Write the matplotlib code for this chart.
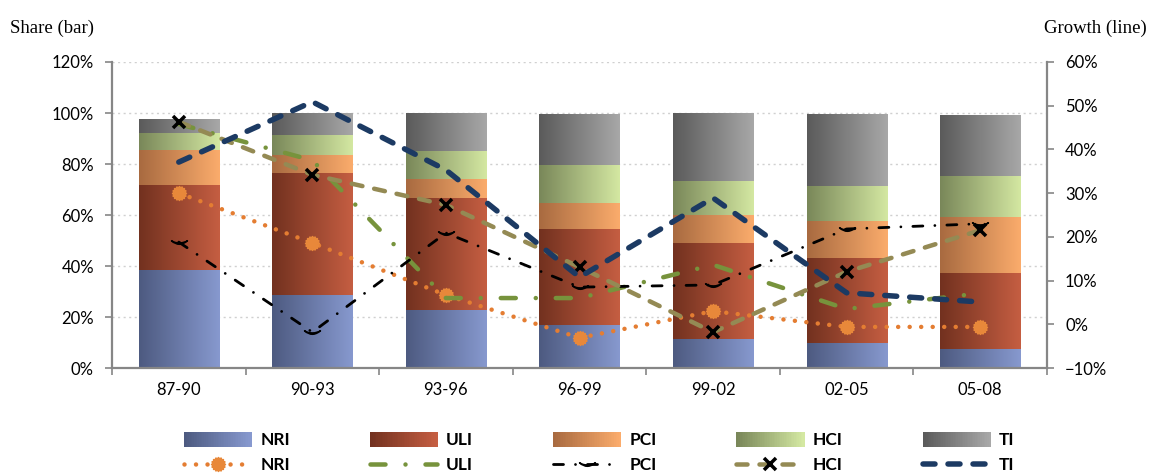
import numpy as np
import matplotlib
matplotlib.use('Agg')
import matplotlib.pyplot as plt
from matplotlib.colors import LinearSegmentedColormap, to_rgb
from matplotlib.patches import Rectangle
from matplotlib.legend_handler import HandlerBase
from matplotlib.lines import Line2D
from matplotlib.path import Path
from matplotlib.ticker import PercentFormatter, FixedLocator

# ---------------- data ----------------
periods = ['87-90', '90-93', '93-96', '96-99', '99-02', '02-05', '05-08']
series_names = ['NRI', 'ULI', 'PCI', 'HCI', 'TI']

share_nri = [38.4, 28.6, 22.7, 16.9, 11.4, 9.8, 7.5]
share_uli = [33.4, 47.9, 44.0, 37.6, 37.6, 33.3, 29.8]
share_pci = [13.7, 7.0, 7.4, 10.2, 11.0, 14.5, 21.9]
share_hci = [6.7, 7.9, 11.0, 14.9, 13.3, 13.8, 16.1]
share_ti = [5.1, 8.6, 14.9, 20.0, 26.3, 28.2, 23.9]

growth_nri = [30.0, 18.6, 6.7, -3.1, 3.0, -0.6, -0.6]
growth_uli = [45.8, 37.5, 6.0, 6.0, 13.6, 3.5, 7.1]
growth_pci = [18.8, -1.8, 20.9, 8.5, 9.0, 21.8, 23.0]
growth_hci = [46.3, 34.2, 27.3, 13.1, -1.8, 12.0, 21.5]
growth_ti = [37.1, 50.9, 35.3, 10.8, 28.9, 7.2, 5.1]

shares = [share_nri, share_uli, share_pci, share_hci, share_ti]
growths = [growth_nri, growth_uli, growth_pci, growth_hci, growth_ti]

# ---------------- styles ----------------
bar_grads = [('#4D5A80', '#8799CF'),
             ('#72311F', '#C55E42'),
             ('#A86A40', '#FBAC6C'),
             ('#798759', '#D4E8A2'),
             ('#5A5A5A', '#A8A8A8')]

theta = np.linspace(0, 2 * np.pi, 97)
r = 1 + 0.12 * np.cos(16 * theta)
sun = Path(np.column_stack([r * np.cos(theta), r * np.sin(theta)]), closed=True)

px = 0.72  # px -> pt
line_styles = [
    dict(color='#E47D32', lw=4.5 * px, ls=(0, (0.01, 11.5 * px)), marker=sun, ms=14 * px,
         mfc='#E8883A', mec='#E8883A'),
    dict(color='#77933C', lw=4.5 * px, ls=(0, (15 * px, 20 * px, 0.01, 20 * px)), marker='None'),
    dict(color='black', lw=2.8 * px, ls=(0, (10 * px, 12 * px, 0.01, 12 * px)), marker=r'$\smile$',
         ms=16 * px, mfc='black', mec='black'),
    dict(color='#948A54', lw=4.5 * px, ls=(0, (11 * px, 12 * px)), marker='x', ms=12 * px,
         mfc='black', mec='black', mew=3.5 * px),
    dict(color='#1C3A63', lw=5.5 * px, ls=(0, (12 * px, 13 * px)), marker='None'),
]

plt.rcParams['lines.scale_dashes'] = False
plt.rcParams['font.family'] = ['Lato', 'DejaVu Sans']

fig = plt.figure(figsize=(11.5, 4.73), dpi=100)
ax = fig.add_axes([112 / 1150, 1 - 368 / 473, 935 / 1150, 306 / 473])

x = np.arange(len(periods))
grad = np.linspace(0, 1, 256).reshape(1, -1)
bottom = np.zeros(len(periods))
for vals, (c0, c1), name in zip(shares, bar_grads, series_names):
    vals = np.array(vals)
    bars = ax.bar(x, vals, 0.6, bottom=bottom, color='none', edgecolor='none', zorder=2)
    cmap = LinearSegmentedColormap.from_list(name, [c0, c1])
    for b in bars:
        x0, y0, w, h = b.get_x(), b.get_y(), b.get_width(), b.get_height()
        ax.imshow(grad, cmap=cmap, extent=(x0, x0 + w, y0, y0 + h), aspect='auto',
                  interpolation='bilinear', zorder=2)
    bottom += vals

ax.set_aspect('auto')
ax.set_xlim(-0.5, len(periods) - 0.5)
ax.set_ylim(0, 120)
ax.set_yticks(np.arange(0, 121, 20))
ax.yaxis.set_major_formatter(PercentFormatter(decimals=0))
ax.yaxis.grid(True, color='#D0D0D0', linestyle=(0, (1.5, 2.5)), linewidth=1)
ax.set_axisbelow(True)

ax.set_xticks(x)
ax.set_xticklabels(periods)
ax.xaxis.set_minor_locator(FixedLocator(np.arange(-0.5, len(periods), 1)))
ax.tick_params(axis='x', which='major', length=0, pad=10, labelsize=12)
ax.tick_params(axis='x', which='minor', length=5, width=1.2, color='#868686', direction='out')
ax.tick_params(axis='y', length=5, width=1.2, color='#868686', pad=8, labelsize=12)

for s in ['top', 'right']:
    ax.spines[s].set_visible(False)
for s in ['left', 'bottom']:
    ax.spines[s].set_color('#868686')
    ax.spines[s].set_linewidth(1.6)

ax2 = ax.twinx()
ax2.set_ylim(-10, 60)
ax2.set_yticks(np.arange(-10, 61, 10))
ax2.yaxis.set_major_formatter(PercentFormatter(decimals=0))
ax2.tick_params(axis='y', length=5, width=1.2, color='#868686', pad=8, labelsize=12)
for s in ['top', 'left', 'bottom']:
    ax2.spines[s].set_visible(False)
ax2.spines['right'].set_color('#868686')
ax2.spines['right'].set_linewidth(1.6)

line_handles = []
for g, st, name in zip(growths, line_styles, series_names):
    ln, = ax2.plot(x, g, color=st['color'], lw=st['lw'], linestyle=st['ls'],
                   dash_capstyle='round', solid_capstyle='round',
                   marker=st['marker'], ms=st.get('ms', 0), mfc=st.get('mfc', 'none'),
                   mec=st.get('mec', 'none'), mew=st.get('mew', 1.0), zorder=3)
    line_handles.append(ln)


# ---------------- legend ----------------
class GradientHandle:
    def __init__(self, c0, c1):
        self.c0, self.c1 = c0, c1


class HandlerGradient(HandlerBase):
    def create_artists(self, legend, orig_handle, xdescent, ydescent, width, height,
                       fontsize, trans):
        n = 40
        c0 = np.array(to_rgb(orig_handle.c0))
        c1 = np.array(to_rgb(orig_handle.c1))
        arts = []
        for i in range(n):
            t = i / (n - 1)
            col = c0 * (1 - t) + c1 * t
            rect = Rectangle((-xdescent + width * i / n, -ydescent - 1), width / n + 0.3,
                             height + 2, facecolor=col, edgecolor='none', transform=trans)
            arts.append(rect)
        return arts


handles, labels = [], []
for (c0, c1), ln, name in zip(bar_grads, line_handles, series_names):
    handles += [GradientHandle(c0, c1), ln]
    labels += [name, name]

fig.legend(handles, labels, ncol=5, loc='center', bbox_to_anchor=(0.521, 0.043),
           frameon=False, handlelength=3.9, handletextpad=0.5, columnspacing=4.6,
           labelspacing=0.5, numpoints=1,
           prop={'family': 'Lato', 'weight': 'bold', 'size': 12.5},
           handler_map={GradientHandle: HandlerGradient()})

fig.text(10 / 1150, 1 - 28 / 473, 'Share (bar)', family='Liberation Serif', size=13.5,
         va='center', ha='left')
fig.text(1147 / 1150, 1 - 28 / 473, 'Growth (line)', family='Liberation Serif', size=13.5,
         va='center', ha='right')

fig.savefig('out.png', dpi=100)
